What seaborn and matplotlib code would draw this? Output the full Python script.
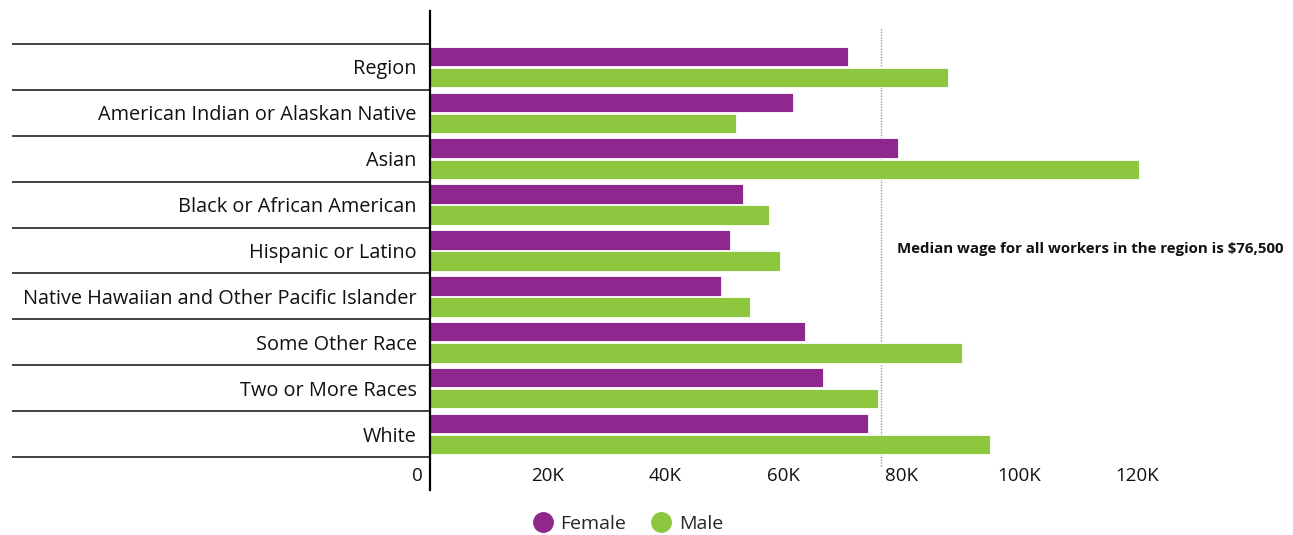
import matplotlib
matplotlib.use("Agg")
import matplotlib.pyplot as plt
import matplotlib.transforms as mtransforms
from matplotlib.lines import Line2D
import seaborn as sns
import pandas as pd

categories = ["Region", "American Indian or Alaskan Native", "Asian",
              "Black or African American", "Hispanic or Latino",
              "Native Hawaiian and Other Pacific Islander", "Some Other Race",
              "Two or More Races", "White"]
female = [71000, 61700, 79400, 53100, 50900, 49400, 63700, 66700, 74300]
male = [87900, 52000, 120400, 57600, 59400, 54400, 90300, 76000, 95000]
series = ["Female", "Male"]
colors = ["#8E278E", "#8DC63F"]
median_wage = 76500
median_label = "Median wage for all workers in the region is $76,500"
xticks = [0, 20000, 40000, 60000, 80000, 100000, 120000]
xticklabels = ["0", "20K", "40K", "60K", "80K", "100K", "120K"]

df = pd.DataFrame({
    "category": categories * 2,
    "value": female + male,
    "sex": ["Female"] * len(categories) + ["Male"] * len(categories),
})

sns.set_theme(style="white")
plt.rcParams["font.family"] = ["Open Sans", "DejaVu Sans"]

W, H = 1293, 535
fig = plt.figure(figsize=(W / 100, H / 100), dpi=100)
ax = fig.add_axes([430 / W, 1 - 490 / H, 860 / W, 479 / H])

sns.barplot(data=df, y="category", x="value", hue="sex", order=categories,
            hue_order=series, palette=colors, saturation=1, orient="h",
            width=0.92, gap=0.08, edgecolor="white", linewidth=0.6,
            legend=False, ax=ax)

ax.set_xlim(0, 146000)
ax.set_ylim(len(categories) - 0.5 + 0.72, -0.5 - 0.72)
ax.set_xlabel("")
ax.set_ylabel("")

for s in ["top", "right", "bottom"]:
    ax.spines[s].set_visible(False)
ax.spines["left"].set_color("black")
ax.spines["left"].set_linewidth(1.6)

ax.set_xticks(xticks)
ax.set_xticklabels(xticklabels)
ax.tick_params(axis="x", length=0, pad=-16.5, labelsize=13.5, colors="#111111")
ax.tick_params(axis="y", length=0, pad=9.5, labelsize=14.3, colors="#111111")
ax.set_yticks(range(len(categories)))
ax.set_yticklabels(categories)

# shift "0" label left of axis
lbl0 = ax.get_xticklabels()[0]
lbl0.set_ha("right")
lbl0.set_transform(lbl0.get_transform() + mtransforms.ScaledTranslation(-7 / 100, 0, fig.dpi_scale_trans))

# separator lines in label area
trans = mtransforms.blended_transform_factory(ax.transAxes, ax.transData)
x0 = (12 - 430) / 860
for i in range(len(categories) + 1):
    ax.plot([x0, 0], [i - 0.5, i - 0.5], transform=trans, color="#222222",
            lw=1.2, clip_on=False, solid_capstyle="butt")

# median line
ax.axvline(median_wage, ymin=0.05, ymax=0.967, color="#999999", lw=1.0,
           linestyle=(0, (1, 1)), zorder=0.5)
ax.text(79300, 3.97, median_label, fontsize=10.8, fontweight="bold",
        va="center", ha="left", color="#111111",
        family=["Open Sans", "DejaVu Sans"])

handles = [Line2D([0], [0], marker="o", color="none", markerfacecolor=c,
                  markeredgecolor=c, markersize=14) for c in colors]
fig.legend(handles, series, loc="center", bbox_to_anchor=(628 / W, 1 - 524 / H),
           ncol=2, frameon=False, fontsize=14, handletextpad=0.4,
           columnspacing=1.3, handlelength=1.0)

fig.savefig("out.png", dpi=100)
